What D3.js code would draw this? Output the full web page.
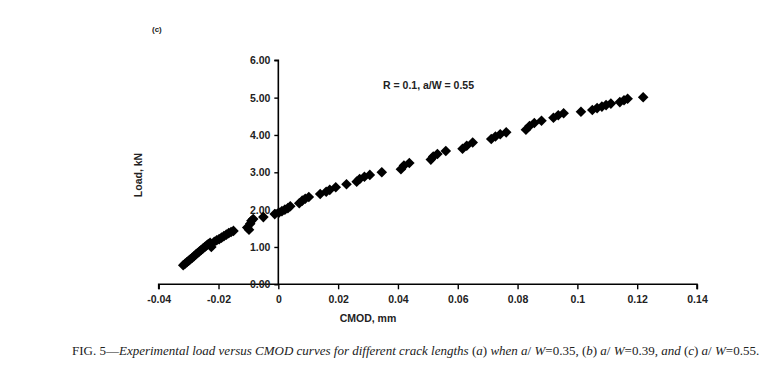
<!DOCTYPE html>
<html>
<head>
<meta charset="utf-8">
<script src="https://cdn.jsdelivr.net/npm/d3@7"></script>
<style>
  body { margin: 0; background: #fff; }
  text { font-family: "Liberation Sans", Arial, sans-serif; }
  .axis-label { font-weight: bold; font-size: 10.5px; }
  .caption { font-family: "Liberation Serif", "Times New Roman", serif; font-size: 13px; }
</style>
</head>
<body>
<svg id="chart" width="779" height="389"></svg>
<script>
// CMOD (mm) and load (kN)
const cmod = [
  -0.0318, -0.0312, -0.0306, -0.0300, -0.0294, -0.0288, -0.0282, -0.0276, -0.0270, -0.0264,
  -0.0258, -0.0252, -0.0246, -0.0240, -0.0234, -0.0228, -0.0224, -0.0214, -0.0206, -0.0198,
  -0.0190, -0.0182, -0.0174, -0.0166, -0.0158, -0.0150, -0.0104, -0.0098, -0.0094, -0.0090,
  -0.0084, -0.0050, -0.0012, 0.0002, 0.0012, 0.0022, 0.0032, 0.0040, 0.0070, 0.0080,
  0.0090, 0.0102, 0.0140, 0.0160, 0.0172, 0.0192, 0.0228, 0.0262, 0.0272, 0.0288,
  0.0306, 0.0346, 0.0410, 0.0420, 0.0438, 0.0510, 0.0518, 0.0532, 0.0560, 0.0616,
  0.0630, 0.0650, 0.0712, 0.0726, 0.0742, 0.0762, 0.0828, 0.0840, 0.0856, 0.0880,
  0.0920, 0.0936, 0.0954, 0.1012, 0.1050, 0.1066, 0.1082, 0.1096, 0.1112, 0.1142,
  0.1156, 0.1168, 0.1220
];
const load = [
  0.51, 0.55, 0.59, 0.63, 0.67, 0.71, 0.75, 0.80, 0.84, 0.88,
  0.92, 0.96, 1.00, 1.04, 1.08, 1.11, 1.00, 1.14, 1.18, 1.21,
  1.25, 1.29, 1.33, 1.37, 1.40, 1.43, 1.52, 1.46, 1.62, 1.70,
  1.75, 1.80, 1.88, 1.92, 1.96, 2.00, 2.04, 2.09, 2.17, 2.24,
  2.29, 2.34, 2.42, 2.48, 2.53, 2.60, 2.68, 2.75, 2.82, 2.88,
  2.93, 3.00, 3.08, 3.18, 3.25, 3.34, 3.42, 3.49, 3.57, 3.63,
  3.71, 3.80, 3.89, 3.96, 4.02, 4.07, 4.14, 4.24, 4.32, 4.38,
  4.46, 4.53, 4.58, 4.62, 4.67, 4.72, 4.76, 4.80, 4.84, 4.88,
  4.93, 4.97, 5.01
];
const xTicks = [-0.04, -0.02, 0, 0.02, 0.04, 0.06, 0.08, 0.1, 0.12, 0.14];
const xTickLabels = ["-0.04", "-0.02", "0", "0.02", "0.04", "0.06", "0.08", "0.1", "0.12", "0.14"];
const yTicks = [0, 1, 2, 3, 4, 5, 6];
const yTickLabels = ["0.00", "1.00", "2.00", "3.00", "4.00", "5.00", "6.00"];

const svg = d3.select("#chart");

const x = d3.scaleLinear().domain([-0.04, 0.14]).range([158.7, 697]);
const y = d3.scaleLinear().domain([0, 6]).range([284.3, 60.3]);

// x axis along load = 0
const xAxis = svg.append("g")
  .attr("transform", "translate(0," + y(0) + ")")
  .call(d3.axisBottom(x).tickValues(xTicks).tickSize(5).tickPadding(6)
    .tickFormat((d, i) => xTickLabels[i]));

// y axis placed at CMOD = 0
const yAxis = svg.append("g")
  .attr("transform", "translate(" + x(0) + ",0)")
  .call(d3.axisLeft(y).tickValues(yTicks).tickSize(4).tickPadding(4)
    .tickFormat((d, i) => yTickLabels[i]));

[xAxis, yAxis].forEach(a => {
  a.select(".domain").attr("stroke", "#000").attr("stroke-width", 1.6);
  a.selectAll(".tick line").attr("stroke", "#000").attr("stroke-width", 1.4);
  a.selectAll(".tick text")
    .attr("class", "axis-label")
    .attr("fill", "#222");
});
xAxis.select(".domain").attr("d", "M" + x(-0.04) + ",5V0H" + x(0.14) + "V5");
yAxis.select(".domain").attr("d", "M-4," + y(6) + "H0V" + y(0));

// diamond markers
const diamond = "M0,-5.3L5.3,0L0,5.3L-5.3,0Z";
svg.append("g")
  .selectAll("path")
  .data(d3.range(cmod.length))
  .enter()
  .append("path")
  .attr("d", diamond)
  .attr("transform", i => "translate(" + x(cmod[i]) + "," + y(load[i]) + ")")
  .attr("fill", "#000");

// labels
svg.append("text")
  .attr("class", "axis-label")
  .attr("x", 368).attr("y", 322)
  .attr("text-anchor", "middle")
  .attr("fill", "#222")
  .text("CMOD, mm");

svg.append("text")
  .attr("class", "axis-label")
  .attr("transform", "translate(142,175) rotate(-90)")
  .attr("text-anchor", "middle")
  .attr("fill", "#222")
  .text("Load, kN");

svg.append("text")
  .attr("class", "axis-label")
  .attr("x", 383).attr("y", 89)
  .attr("fill", "#222")
  .text("R = 0.1, a/W = 0.55");

svg.append("text")
  .attr("x", 152).attr("y", 32)
  .attr("font-weight", "bold")
  .attr("font-size", "8px")
  .attr("fill", "#222")
  .text("(c)");

// caption
const cap = svg.append("text")
  .attr("class", "caption")
  .attr("x", 72).attr("y", 355)
  .attr("fill", "#222");
const parts = [
  ["FIG. 5—", false],
  ["Experimental load versus CMOD curves for different crack lengths ", true],
  ["(", false], ["a", true], [")", false],
  [" when a", true], ["/", false], [" W", true], ["=0.35, ", false],
  ["(", false], ["b", true], [") ", false],
  ["a", true], ["/", false], [" W", true], ["=0.39, ", false],
  ["and ", true],
  ["(", false], ["c", true], [") ", false],
  ["a", true], ["/", false], [" W", true], ["=0.55.", false]
];
parts.forEach(p => {
  cap.append("tspan")
    .attr("font-style", p[1] ? "italic" : "normal")
    .text(p[0]);
});
</script>
</body>
</html>
